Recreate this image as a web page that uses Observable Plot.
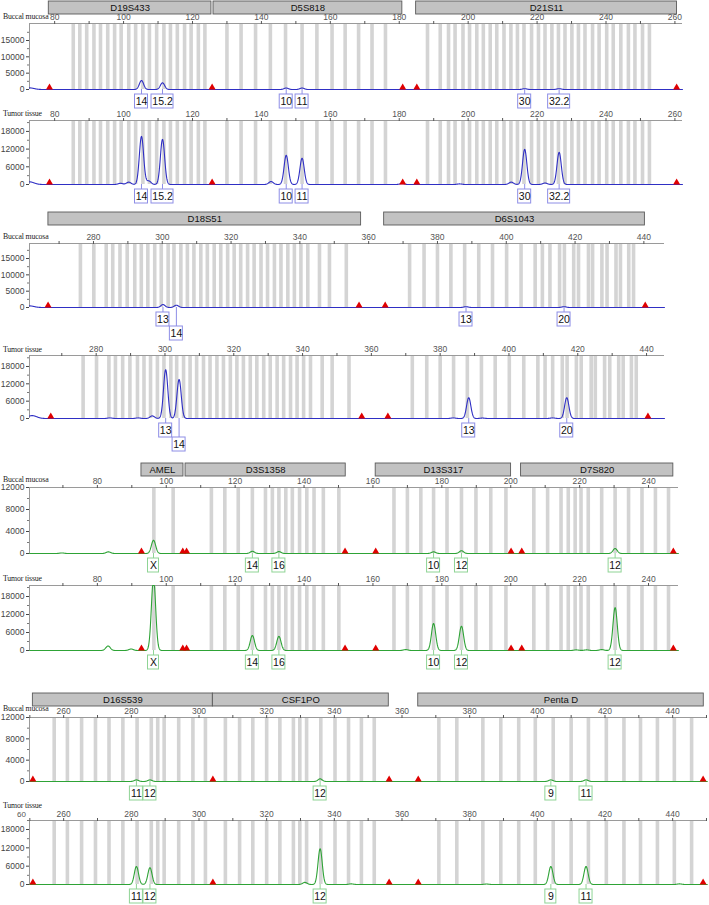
<!DOCTYPE html>
<html><head><meta charset="utf-8">
<script src="https://cdn.jsdelivr.net/npm/d3@7"></script>
<script src="https://cdn.jsdelivr.net/npm/@observablehq/plot@0.6"></script>
<style>
body{margin:0;background:#fff;}
#root{position:relative;width:709px;height:905px;overflow:hidden;font-family:"Liberation Sans",Arial,sans-serif;}
.pp{position:absolute;left:0;}
.lab{position:absolute;left:3px;font-family:"Liberation Serif","Times New Roman",serif;font-size:7.8px;letter-spacing:-0.15px;color:#222;line-height:9px;white-space:nowrap;}
.stray{position:absolute;font-size:8px;color:#555;line-height:9px;}
</style></head><body><div id="root"></div>
<script>
// ---------------- Section 1 (blue dye) ----------------
const s1Markers = ["D19S433", "D5S818", "D21S11"];
const s1MarkerStart = [78.3, 126.1, 184.9];
const s1MarkerEnd = [125.5, 180.9, 260.6];
const s1Bins = [85.4,87.3,89.3,91.4,93.3,95.4,97.4,99.3,101.5,103.5,105.6,107.5,109.6,111.7,113.6,115.6,117.7,119.6,121.7,123.6,
  130.0,134.1,138.3,142.6,147.0,151.8,156.1,160.5,164.3,168.2,172.1,176.0,
  188.2,191.9,194.3,196.2,198.5,200.4,202.5,204.4,206.4,208.3,210.4,212.4,214.3,216.2,218.4,220.4,222.3,224.3,226.2,228.1,230.1,232.0,233.9,236.1,238.0,240.2,242.1,244.3,246.5,248.4,250.6,252.6];
const s1Triangles = [78.5, 125.7, 181.0, 185.1, 260.5];
const s1Alleles = ["14", "15.2", "10", "11", "30", "32.2"];
const s1AlleleBp = [105.2, 111.3, 147.2, 151.8, 216.4, 226.4];
const s1AlleleRow = [1, 1, 1, 1, 1, 1];
const s1Buccal = [2750, 2050, 450, 450, 250, 250];
const s1Tumor = [16300, 15300, 9900, 8900, 11900, 10900];
const s1BuccalMinorBp = [72.7];
const s1BuccalMinorH = [500];
const s1TumorMinorBp = [72.7, 99.1, 101.5, 107.3, 142.8, 180.8, 197.5, 212.5, 222.3];
const s1TumorMinorH = [900, 400, 800, 1200, 1000, 300, 200, 800, 500];

// ---------------- Section 2 (blue dye) ----------------
const s2Markers = ["D18S51", "D6S1043"];
const s2MarkerStart = [266.9, 364.5];
const s2MarkerEnd = [357.8, 440.3];
const s2Bins = [276.2,280.1,283.7,285.6,287.7,289.8,292.0,293.9,295.8,297.8,299.7,301.7,303.4,305.4,307.3,309.2,311.2,313.1,315.1,317.0,319.0,320.9,322.8,324.8,326.7,328.7,330.6,332.6,334.5,336.5,338.4,340.3,342.3,345.7,348.6,353.5,
  371.9,376.1,380.0,383.9,387.9,392.0,396.0,400.1,404.3,408.4,410.5,412.7,415.5,416.9,419.6,421.0,423.9,425.1,427.8,429.3,431.9,433.2,435.6,437.0];
const s2Triangles = [266.8, 357.2, 364.8, 440.4];
const s2Alleles = ["13", "14", "13", "20"];
const s2AlleleBp = [300.2, 304.1, 388.3, 416.8];
const s2AlleleRow = [1, 2, 1, 1];
const s2Buccal = [900, 700, 250, 250];
const s2Tumor = [16900, 13500, 7200, 7200];
const s2BuccalMinorBp = [261.4];
const s2BuccalMinorH = [500];
const s2TumorMinorBp = [261.4, 284.0, 292.2, 296.3, 383.8, 392.3, 412.7];
const s2TumorMinorH = [1000, 200, 200, 900, 200, 150, 200];

// ---------------- Section 3 (green dye) ----------------
const s3Markers = ["AMEL", "D3S1358", "D13S317", "D7S820"];
const s3MarkerStart = [92.8, 105.6, 160.8, 203.0];
const s3MarkerEnd = [105.0, 152.1, 200.1, 247.2];
const s3Bins = [96.4,102.0,113.1,117.0,120.9,125.0,128.8,130.8,132.7,134.7,136.6,138.7,140.8,142.9,145.6,150.1,
  166.1,170.0,173.9,177.6,181.5,185.7,189.9,194.2,198.6,
  206.7,210.7,214.6,216.7,218.7,220.4,222.5,226.4,230.3,234.2,238.1,242.0,245.8];
const s3Triangles = [92.8, 104.8, 105.9, 151.9, 160.8, 200.1, 203.2, 247.2];
const s3Alleles = ["X", "14", "16", "10", "12", "12"];
const s3AlleleBp = [96.3, 125.0, 132.7, 177.6, 185.7, 230.3];
const s3AlleleRow = [1, 1, 1, 1, 1, 1];
const s3Buccal = [2400, 400, 350, 300, 500, 900];
const s3Tumor = [24000, 5000, 4700, 9000, 8100, 14300];
const s3BuccalMinorBp = [69.7, 83.2];
const s3BuccalMinorH = [100, 300];
const s3TumorMinorBp = [83.1, 89.8, 169.5, 219.0, 222.0, 226.4];
const s3TumorMinorH = [1500, 500, 300, 200, 200, 300];

// ---------------- Section 4 (green dye) ----------------
const s4Markers = ["D16S539", "CSF1PO", "Penta D"];
const s4MarkerStart = [250.9, 304.1, 364.8];
const s4MarkerEnd = [304.1, 356.1, 449.2];
const s4Bins = [257.2,261.1,265.3,269.4,273.4,277.5,281.7,285.9,287.8,289.7,294.0,298.2,301.9,
  307.8,312.0,315.9,320.0,323.9,327.9,329.8,331.8,336.0,340.2,344.2,348.0,351.8,
  370.9,376.2,383.9,389.2,394.5,399.4,404.7,410.0,415.1,420.4,425.6,430.5,435.5,440.5,445.6];
const s4Triangles = [250.9, 304.1, 356.2, 364.8, 449.0];
const s4Alleles = ["11", "12", "12", "9", "11"];
const s4AlleleBp = [281.5, 285.5, 335.8, 404.0, 414.4];
const s4AlleleRow = [1, 1, 1, 1, 1];
const s4Buccal = [300, 300, 500, 300, 300];
const s4Tumor = [5900, 5500, 11700, 5900, 5900];
const s4BuccalMinorBp = [];
const s4BuccalMinorH = [];
const s4TumorMinorBp = [331.3, 345.0, 385.0, 442.0];
const s4TumorMinorH = [700, 200, 150, 200];

// ---------------- Axis tick values ----------------
const ticksBuccalHigh = [0, 5000, 10000, 15000];
const minorBuccalHigh = [2500, 7500, 12500, 17500];
const ticksBuccalLow = [0, 4000, 8000, 12000];
const minorBuccalLow = [2000, 6000, 10000];
const ticksTumor = [0, 6000, 12000, 18000];
const minorTumor = [3000, 9000, 15000, 21000];
const panelNames = ["Buccal mucosa", "Tumor tissue"];
const strayTickText = "60"; // clipped tick text left of the last tumor panel

// ---------------- Layout ----------------
const BLUE = "#2f2fc4", BLUEBOX = "#8e8ee6";
const GREEN = "#2ea336", GREENBOX = "#8fd495";
const root = document.getElementById("root");
const W = 709, LEFT = 29;

const sections = [
  {markers: s1Markers, ms: s1MarkerStart, me: s1MarkerEnd, bins: s1Bins, tri: s1Triangles,
   al: s1Alleles, bp: s1AlleleBp, row: s1AlleleRow, hb: s1Buccal, ht: s1Tumor,
   mbB: s1BuccalMinorBp, mhB: s1BuccalMinorH, mbT: s1TumorMinorBp, mhT: s1TumorMinorH,
   domain: [72.7, 262.2], right: 682, color: BLUE, box: BLUEBOX, header: 0,
   panels: [{label: 16, axis: 23, base: 89, yMax: 20200, t: ticksBuccalHigh, m: minorBuccalHigh, shift: 0},
            {label: 113, axis: 120, base: 184, yMax: 21700, t: ticksTumor, m: minorTumor, shift: 0}]},
  {markers: s2Markers, ms: s2MarkerStart, me: s2MarkerEnd, bins: s2Bins, tri: s2Triangles,
   al: s2Alleles, bp: s2AlleleBp, row: s2AlleleRow, hb: s2Buccal, ht: s2Tumor,
   mbB: s2BuccalMinorBp, mhB: s2BuccalMinorH, mbT: s2TumorMinorBp, mhT: s2TumorMinorH,
   domain: [261.4, 446.0], right: 664, color: BLUE, box: BLUEBOX, header: 211,
   panels: [{label: 236, axis: 243, base: 307, yMax: 19600, t: ticksBuccalHigh, m: minorBuccalHigh, shift: 0},
            {label: 349, axis: 355, base: 418, yMax: 21800, t: ticksTumor, m: minorTumor, shift: 2.7}]},
  {markers: s3Markers, ms: s3MarkerStart, me: s3MarkerEnd, bins: s3Bins, tri: s3Triangles,
   al: s3Alleles, bp: s3AlleleBp, row: s3AlleleRow, hb: s3Buccal, ht: s3Tumor,
   mbB: s3BuccalMinorBp, mhB: s3BuccalMinorH, mbT: s3TumorMinorBp, mhT: s3TumorMinorH,
   domain: [60.3, 248.7], right: 678, color: GREEN, box: GREENBOX, header: 462,
   panels: [{label: 479, axis: 487, base: 553, yMax: 12000, t: ticksBuccalLow, m: minorBuccalLow, shift: 0},
            {label: 578, axis: 585, base: 650, yMax: 21670, t: ticksTumor, m: minorTumor, shift: 0}]},
  {markers: s4Markers, ms: s4MarkerStart, me: s4MarkerEnd, bins: s4Bins, tri: s4Triangles,
   al: s4Alleles, bp: s4AlleleBp, row: s4AlleleRow, hb: s4Buccal, ht: s4Tumor,
   mbB: s4BuccalMinorBp, mhB: s4BuccalMinorH, mbT: s4TumorMinorBp, mhT: s4TumorMinorH,
   domain: [249.9, 450.3], right: 707, color: GREEN, box: GREENBOX, header: 692,
   panels: [{label: 708.5, axis: 717, base: 781, yMax: 12000, t: ticksBuccalLow, m: minorBuccalLow, shift: 0},
            {label: 805, axis: 820, base: 884, yMax: 20950, t: ticksTumor, m: minorTumor, shift: 0}]}
];

function place(node, top) {
  const d = document.createElement("div");
  d.className = "pp"; d.style.top = top + "px";
  d.appendChild(node); root.appendChild(d);
}
function addLabel(text, center, cls, left) {
  const d = document.createElement("div");
  d.className = cls || "lab"; d.textContent = text; d.style.top = (center - 4.5) + "px";
  if (left != null) d.style.left = left + "px";
  root.appendChild(d);
}

// sampled electropherogram trace from read peak positions / heights
function trace(domain, peaks) {
  const out = [];
  for (let x = domain[0]; x <= domain[1] + 1e-9; x += 0.07) {
    let v = 0;
    for (const p of peaks) v += p.h * Math.exp(-((x - p.bp) ** 2) / (2 * p.s * p.s));
    out.push({bp: x, v});
  }
  return out;
}

const svgStyle = {background: "transparent", overflow: "visible", fontFamily: "Liberation Sans, Arial, sans-serif"};

sections.forEach((S) => {
  // header row
  const hdr = S.markers.map((name, i) => ({name, start: S.ms[i], end: S.me[i]}));
  place(Plot.plot({
    width: W, height: 15, marginTop: 1, marginBottom: 1, marginLeft: LEFT, marginRight: W - S.right,
    x: {domain: S.domain, axis: null}, y: {domain: [0, 1], axis: null},
    style: svgStyle,
    marks: [
      Plot.rect(hdr, {x1: "start", x2: "end", y1: 0, y2: 1, fill: "#c2c2c2", stroke: "#5a5a5a", strokeWidth: 0.9}),
      Plot.text(hdr, {x: d => (d.start + d.end) / 2, y: 0.5, text: "name", fontSize: 9.5, fill: "#111"})
    ]
  }), S.header);

  const k = (S.right - LEFT) / (S.domain[1] - S.domain[0]);
  const alle = S.al.map((name, i) => ({name, bp: S.bp[i], row: S.row[i]}));

  S.panels.forEach((P, pi) => {
    const dom = [S.domain[0] - P.shift / k, S.domain[1] - P.shift / k];
    const heights = pi === 0 ? S.hb : S.ht;
    const mb = pi === 0 ? S.mbB : S.mbT, mh = pi === 0 ? S.mhB : S.mhT;
    const peaks = S.bp.map((bp, i) => ({bp, h: heights[i], s: 0.62}))
      .concat(mb.map((bp, i) => ({bp, h: mh[i], s: bp <= S.domain[0] + 0.1 ? 1.3 : 0.65})));
    const tr = trace(dom, peaks);
    const MT = 14, MB = 42;
    const xt = d3.range(Math.ceil(dom[0] / 10) * 10, dom[1], 10);
    const marks = [
      Plot.ruleX(S.bins, {x: d => d, y1: 0, y2: P.yMax, stroke: "#d4d4d4", strokeWidth: 3.6}),
      Plot.ruleY([P.yMax], {stroke: "#9a9a9a", strokeWidth: 1}),
      Plot.ruleX([dom[0]], {stroke: "#9a9a9a", strokeWidth: 1}),
      Plot.axisX({anchor: "top", ticks: xt, tickFormat: d => (d % 20 === 0 ? d : ""), tickSize: 3, tickPadding: 1,
                  fontSize: 8.5, color: "#555", label: null}),
      Plot.axisY({ticks: P.t, tickSize: 3, tickPadding: 2, fontSize: 8.5, color: "#444", label: null, tickFormat: d => String(d)}),
      Plot.axisY({ticks: P.m, tickSize: 2, tickFormat: () => "", color: "#777", label: null}),
      Plot.line(tr, {x: "bp", y: "v", stroke: S.color, strokeWidth: 1.1}),
      Plot.dot(S.tri, {x: d => d, y: 0, symbol: "triangle", r: 2.6, fill: "#e00000", stroke: null, dy: -2})
    ];
    [1, 2].forEach(r => {
      const rows = alle.filter(a => a.row === r);
      if (!rows.length) return;
      const off = r === 1 ? 5 : 19;
      const hw = d => (d.name.length === 1 ? 5.5 : d.name.length === 2 ? 6.5 : 11);
      marks.push(
        Plot.ruleX(rows, {x: "bp", y1: 0, y2: 0, insetBottom: -off, stroke: S.box, strokeWidth: 1}),
        Plot.rect(rows, {x1: d => d.bp - hw(d) / k, x2: d => d.bp + hw(d) / k, y1: 0, y2: 0,
                         insetTop: off, insetBottom: -(off + 14), fill: "white", stroke: S.box, strokeWidth: 1}),
        Plot.text(rows, {x: "bp", y: 0, text: "name", dy: off + 7.5, fontSize: 10.5, fill: "#111"})
      );
    });
    place(Plot.plot({
      width: W, height: MT + (P.base - P.axis) + MB,
      marginTop: MT, marginBottom: MB, marginLeft: LEFT, marginRight: W - S.right,
      x: {domain: dom, label: null}, y: {domain: [0, P.yMax], clamp: true, label: null},
      style: svgStyle,
      marks
    }), P.axis - MT);
    addLabel(panelNames[pi], P.label);
  });
});
addLabel(strayTickText, 814, "stray", 17);
</script>
</body></html>
